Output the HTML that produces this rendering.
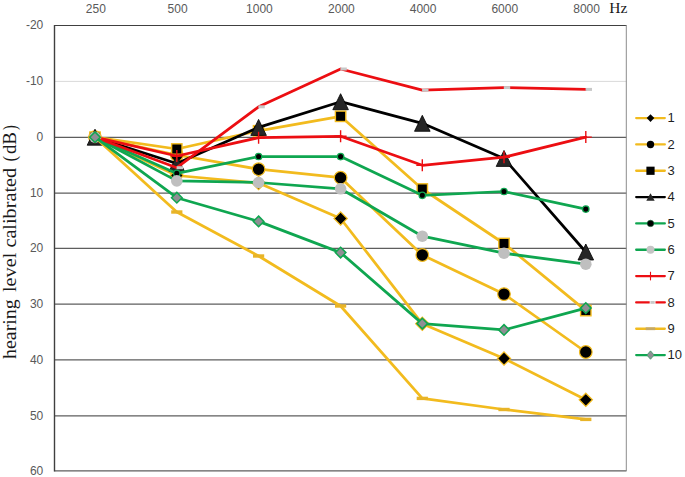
<!DOCTYPE html>
<html><head><meta charset="utf-8"><style>
html,body{margin:0;padding:0;background:#fff;}
body{width:685px;height:477px;overflow:hidden;}
svg{display:block;}
.ax{font-family:"Liberation Sans",sans-serif;font-size:12px;fill:#595959;}
.lg{font-family:"Liberation Sans",sans-serif;font-size:13px;fill:#1f1f1f;}
.hz{font-family:"Liberation Serif",serif;font-size:15.5px;fill:#1a1a1a;}
.yt{font-family:"Liberation Serif",serif;font-size:18.5px;fill:#1a1a1a;}
</style></head><body>
<svg width="685" height="477" viewBox="0 0 685 477">
<rect width="685" height="477" fill="#fff"/>
<line x1="54.5" y1="25.50" x2="626.5" y2="25.50" stroke="#404040" stroke-width="1.2"/>
<line x1="54.5" y1="81.40" x2="626.5" y2="81.40" stroke="#D9D9D9" stroke-width="1"/>
<line x1="54.5" y1="137.40" x2="626.5" y2="137.40" stroke="#5E5E5E" stroke-width="1.3"/>
<line x1="54.5" y1="193.10" x2="626.5" y2="193.10" stroke="#5E5E5E" stroke-width="1.3"/>
<line x1="54.5" y1="248.40" x2="626.5" y2="248.40" stroke="#5E5E5E" stroke-width="1.3"/>
<line x1="54.5" y1="304.20" x2="626.5" y2="304.20" stroke="#5E5E5E" stroke-width="1.3"/>
<line x1="54.5" y1="359.90" x2="626.5" y2="359.90" stroke="#5E5E5E" stroke-width="1.3"/>
<line x1="54.5" y1="415.80" x2="626.5" y2="415.80" stroke="#5E5E5E" stroke-width="1.3"/>
<line x1="54.5" y1="470.90" x2="626.5" y2="470.90" stroke="#5E5E5E" stroke-width="1.3"/>
<line x1="626.3" y1="25" x2="626.3" y2="471" stroke="#8C8C8C" stroke-width="1"/>
<line x1="54.5" y1="25" x2="54.5" y2="471.5" stroke="#404040" stroke-width="1.4"/>
<text x="43.3" y="29.40" text-anchor="end" class="ax">-20</text>
<text x="43.3" y="85.30" text-anchor="end" class="ax">-10</text>
<text x="43.3" y="141.30" text-anchor="end" class="ax">0</text>
<text x="43.3" y="197.00" text-anchor="end" class="ax">10</text>
<text x="43.3" y="252.30" text-anchor="end" class="ax">20</text>
<text x="43.3" y="308.10" text-anchor="end" class="ax">30</text>
<text x="43.3" y="363.80" text-anchor="end" class="ax">40</text>
<text x="43.3" y="419.70" text-anchor="end" class="ax">50</text>
<text x="43.3" y="474.80" text-anchor="end" class="ax">60</text>
<text x="95.80" y="12.8" text-anchor="middle" class="ax">250</text>
<text x="177.60" y="12.8" text-anchor="middle" class="ax">500</text>
<text x="259.40" y="12.8" text-anchor="middle" class="ax">1000</text>
<text x="341.40" y="12.8" text-anchor="middle" class="ax">2000</text>
<text x="423.10" y="12.8" text-anchor="middle" class="ax">4000</text>
<text x="504.80" y="12.8" text-anchor="middle" class="ax">6000</text>
<text x="586.60" y="12.8" text-anchor="middle" class="ax">8000</text>
<text x="609.2" y="12.6" class="hz">Hz</text>
<g transform="translate(15.8 0) rotate(-90)"><text x="-359.08" y="0" textLength="59.90" lengthAdjust="spacingAndGlyphs" class="yt">hearing</text><text x="-291.99" y="0" textLength="39.23" lengthAdjust="spacingAndGlyphs" class="yt">level</text><text x="-247.59" y="0" textLength="79.73" lengthAdjust="spacingAndGlyphs" class="yt">calibrated</text><text x="-161.42" y="0" textLength="5.68" lengthAdjust="spacingAndGlyphs" class="yt">(</text><text x="-154.12" y="0" textLength="22.02" lengthAdjust="spacingAndGlyphs" class="yt">dB</text><text x="-130.08" y="0" textLength="4.81" lengthAdjust="spacingAndGlyphs" class="yt">)</text></g>
<polyline points="95.00,137.20 176.80,175.50 258.60,183.00 340.60,218.50 422.30,323.80 504.00,358.50 585.80,399.80" fill="none" stroke="#F2BB1E" stroke-width="2.75" stroke-linejoin="round" stroke-linecap="round"/>
<path d="M95.00 130.60L101.60 137.20L95.00 143.80L88.40 137.20Z" fill="#000" stroke="#F2BB1E" stroke-width="1.25"/>
<path d="M176.80 168.90L183.40 175.50L176.80 182.10L170.20 175.50Z" fill="#000" stroke="#F2BB1E" stroke-width="1.25"/>
<path d="M258.60 176.40L265.20 183.00L258.60 189.60L252.00 183.00Z" fill="#000" stroke="#F2BB1E" stroke-width="1.25"/>
<path d="M340.60 211.90L347.20 218.50L340.60 225.10L334.00 218.50Z" fill="#000" stroke="#F2BB1E" stroke-width="1.25"/>
<path d="M422.30 317.20L428.90 323.80L422.30 330.40L415.70 323.80Z" fill="#000" stroke="#F2BB1E" stroke-width="1.25"/>
<path d="M504.00 351.90L510.60 358.50L504.00 365.10L497.40 358.50Z" fill="#000" stroke="#F2BB1E" stroke-width="1.25"/>
<path d="M585.80 393.20L592.40 399.80L585.80 406.40L579.20 399.80Z" fill="#000" stroke="#F2BB1E" stroke-width="1.25"/>
<polyline points="95.00,137.20 176.80,155.00 258.60,169.20 340.60,177.70 422.30,255.00 504.00,294.10 585.80,352.00" fill="none" stroke="#F2BB1E" stroke-width="2.75" stroke-linejoin="round" stroke-linecap="round"/>
<circle cx="95.00" cy="137.20" r="6.3" fill="#000" stroke="#F2BB1E" stroke-width="1.2"/>
<circle cx="176.80" cy="155.00" r="6.3" fill="#000" stroke="#F2BB1E" stroke-width="1.2"/>
<circle cx="258.60" cy="169.20" r="6.3" fill="#000" stroke="#F2BB1E" stroke-width="1.2"/>
<circle cx="340.60" cy="177.70" r="6.3" fill="#000" stroke="#F2BB1E" stroke-width="1.2"/>
<circle cx="422.30" cy="255.00" r="6.3" fill="#000" stroke="#F2BB1E" stroke-width="1.2"/>
<circle cx="504.00" cy="294.10" r="6.3" fill="#000" stroke="#F2BB1E" stroke-width="1.2"/>
<circle cx="585.80" cy="352.00" r="6.3" fill="#000" stroke="#F2BB1E" stroke-width="1.2"/>
<polyline points="95.00,137.20 176.80,149.00 258.60,130.80 340.60,116.30 422.30,189.00 504.00,243.50 585.80,310.60" fill="none" stroke="#F2BB1E" stroke-width="2.75" stroke-linejoin="round" stroke-linecap="round"/>
<rect x="89.80" y="132.00" width="10.40" height="10.40" fill="#000" stroke="#F2BB1E" stroke-width="1.4"/>
<rect x="171.60" y="143.80" width="10.40" height="10.40" fill="#000" stroke="#F2BB1E" stroke-width="1.4"/>
<rect x="253.40" y="125.60" width="10.40" height="10.40" fill="#000" stroke="#F2BB1E" stroke-width="1.4"/>
<rect x="335.40" y="111.10" width="10.40" height="10.40" fill="#000" stroke="#F2BB1E" stroke-width="1.4"/>
<rect x="417.10" y="183.80" width="10.40" height="10.40" fill="#000" stroke="#F2BB1E" stroke-width="1.4"/>
<rect x="498.80" y="238.30" width="10.40" height="10.40" fill="#000" stroke="#F2BB1E" stroke-width="1.4"/>
<rect x="580.60" y="305.40" width="10.40" height="10.40" fill="#000" stroke="#F2BB1E" stroke-width="1.4"/>
<polyline points="95.00,137.20 176.80,163.50 258.60,127.40 340.60,101.70 422.30,123.30 504.00,158.40 585.80,252.00" fill="none" stroke="#000000" stroke-width="2.75" stroke-linejoin="round" stroke-linecap="round"/>
<path d="M95.00 129.20L102.80 145.20L87.20 145.20Z" fill="#262626" stroke="#000" stroke-width="0.8"/>
<path d="M176.80 155.50L184.60 171.50L169.00 171.50Z" fill="#262626" stroke="#000" stroke-width="0.8"/>
<path d="M258.60 119.40L266.40 135.40L250.80 135.40Z" fill="#262626" stroke="#000" stroke-width="0.8"/>
<path d="M340.60 93.70L348.40 109.70L332.80 109.70Z" fill="#262626" stroke="#000" stroke-width="0.8"/>
<path d="M422.30 115.30L430.10 131.30L414.50 131.30Z" fill="#262626" stroke="#000" stroke-width="0.8"/>
<path d="M504.00 150.40L511.80 166.40L496.20 166.40Z" fill="#262626" stroke="#000" stroke-width="0.8"/>
<path d="M585.80 244.00L593.60 260.00L578.00 260.00Z" fill="#262626" stroke="#000" stroke-width="0.8"/>
<polyline points="95.00,137.20 176.80,173.40 258.60,156.50 340.60,156.60 422.30,195.30 504.00,191.50 585.80,209.10" fill="none" stroke="#0FA650" stroke-width="2.75" stroke-linejoin="round" stroke-linecap="round"/>
<circle cx="95.00" cy="137.20" r="3.2" fill="#000" stroke="#0FA650" stroke-width="1.3"/>
<circle cx="176.80" cy="173.40" r="3.2" fill="#000" stroke="#0FA650" stroke-width="1.3"/>
<circle cx="258.60" cy="156.50" r="3.2" fill="#000" stroke="#0FA650" stroke-width="1.3"/>
<circle cx="340.60" cy="156.60" r="3.2" fill="#000" stroke="#0FA650" stroke-width="1.3"/>
<circle cx="422.30" cy="195.30" r="3.2" fill="#000" stroke="#0FA650" stroke-width="1.3"/>
<circle cx="504.00" cy="191.50" r="3.2" fill="#000" stroke="#0FA650" stroke-width="1.3"/>
<circle cx="585.80" cy="209.10" r="3.2" fill="#000" stroke="#0FA650" stroke-width="1.3"/>
<polyline points="95.00,137.20 176.80,180.90 258.60,182.50 340.60,188.80 422.30,236.20 504.00,253.20 585.80,264.20" fill="none" stroke="#0FA650" stroke-width="2.75" stroke-linejoin="round" stroke-linecap="round"/>
<circle cx="95.00" cy="137.20" r="5.8" fill="#BFBFBF"/>
<circle cx="176.80" cy="180.90" r="5.8" fill="#BFBFBF"/>
<circle cx="258.60" cy="182.50" r="5.8" fill="#BFBFBF"/>
<circle cx="340.60" cy="188.80" r="5.8" fill="#BFBFBF"/>
<circle cx="422.30" cy="236.20" r="5.8" fill="#BFBFBF"/>
<circle cx="504.00" cy="253.20" r="5.8" fill="#BFBFBF"/>
<circle cx="585.80" cy="264.20" r="5.8" fill="#BFBFBF"/>
<polyline points="95.00,137.20 176.80,156.00 258.60,137.70 340.60,136.30 422.30,165.30 504.00,157.20 585.80,137.10" fill="none" stroke="#EC0E12" stroke-width="2.75" stroke-linejoin="round" stroke-linecap="round"/>
<path d="M89.00 137.20H101.00M95.00 131.20V143.20" stroke="#EC0E12" stroke-width="1.4" fill="none"/>
<path d="M170.80 156.00H182.80M176.80 150.00V162.00" stroke="#EC0E12" stroke-width="1.4" fill="none"/>
<path d="M252.60 137.70H264.60M258.60 131.70V143.70" stroke="#EC0E12" stroke-width="1.4" fill="none"/>
<path d="M334.60 136.30H346.60M340.60 130.30V142.30" stroke="#EC0E12" stroke-width="1.4" fill="none"/>
<path d="M416.30 165.30H428.30M422.30 159.30V171.30" stroke="#EC0E12" stroke-width="1.4" fill="none"/>
<path d="M498.00 157.20H510.00M504.00 151.20V163.20" stroke="#EC0E12" stroke-width="1.4" fill="none"/>
<path d="M579.80 137.10H591.80M585.80 131.10V143.10" stroke="#EC0E12" stroke-width="1.4" fill="none"/>
<polyline points="95.00,137.20 176.80,167.70 258.60,106.80 340.60,69.00 422.30,90.20 504.00,87.60 585.80,89.40" fill="none" stroke="#EC0E12" stroke-width="2.75" stroke-linejoin="round" stroke-linecap="round"/>
<rect x="94.80" y="135.70" width="6.4" height="3.0" fill="#C8C8C8"/>
<rect x="176.60" y="166.20" width="6.4" height="3.0" fill="#C8C8C8"/>
<rect x="258.40" y="105.30" width="6.4" height="3.0" fill="#C8C8C8"/>
<rect x="340.40" y="67.50" width="6.4" height="3.0" fill="#C8C8C8"/>
<rect x="422.10" y="88.70" width="6.4" height="3.0" fill="#C8C8C8"/>
<rect x="503.80" y="86.10" width="6.4" height="3.0" fill="#C8C8C8"/>
<rect x="585.60" y="87.90" width="6.4" height="3.0" fill="#C8C8C8"/>
<polyline points="95.00,137.20 176.80,212.00 258.60,256.00 340.60,306.00 422.30,398.40 504.00,409.50 585.80,419.40" fill="none" stroke="#F2BB1E" stroke-width="2.75" stroke-linejoin="round" stroke-linecap="round"/>
<rect x="89.40" y="135.50" width="11.20" height="3.4" fill="#E8B428"/>
<rect x="171.20" y="210.30" width="11.20" height="3.4" fill="#E8B428"/>
<rect x="253.00" y="254.30" width="11.20" height="3.4" fill="#E8B428"/>
<rect x="335.00" y="304.30" width="11.20" height="3.4" fill="#E8B428"/>
<rect x="416.70" y="396.70" width="11.20" height="3.4" fill="#E8B428"/>
<rect x="498.40" y="407.80" width="11.20" height="3.4" fill="#E8B428"/>
<rect x="580.20" y="417.70" width="11.20" height="3.4" fill="#E8B428"/>
<polyline points="95.00,137.20 176.80,197.70 258.60,221.40 340.60,252.60 422.30,323.60 504.00,329.90 585.80,308.10" fill="none" stroke="#0FA650" stroke-width="2.75" stroke-linejoin="round" stroke-linecap="round"/>
<path d="M95.00 131.90L100.30 137.20L95.00 142.50L89.70 137.20Z" fill="#8F8F94" stroke="#0FA650" stroke-width="1.5"/>
<path d="M176.80 192.40L182.10 197.70L176.80 203.00L171.50 197.70Z" fill="#8F8F94" stroke="#0FA650" stroke-width="1.5"/>
<path d="M258.60 216.10L263.90 221.40L258.60 226.70L253.30 221.40Z" fill="#8F8F94" stroke="#0FA650" stroke-width="1.5"/>
<path d="M340.60 247.30L345.90 252.60L340.60 257.90L335.30 252.60Z" fill="#8F8F94" stroke="#0FA650" stroke-width="1.5"/>
<path d="M422.30 318.30L427.60 323.60L422.30 328.90L417.00 323.60Z" fill="#8F8F94" stroke="#0FA650" stroke-width="1.5"/>
<path d="M504.00 324.60L509.30 329.90L504.00 335.20L498.70 329.90Z" fill="#8F8F94" stroke="#0FA650" stroke-width="1.5"/>
<path d="M585.80 302.80L591.10 308.10L585.80 313.40L580.50 308.10Z" fill="#8F8F94" stroke="#0FA650" stroke-width="1.5"/>
<line x1="636.2" y1="118.10" x2="664.8" y2="118.10" stroke="#F2BB1E" stroke-width="2.3" stroke-linecap="round"/>
<path d="M650.50 114.30L654.30 118.10L650.50 121.90L646.70 118.10Z" fill="#000"/>
<text x="667.6" y="122.40" class="lg">1</text>
<line x1="636.2" y1="144.43" x2="664.8" y2="144.43" stroke="#F2BB1E" stroke-width="2.3" stroke-linecap="round"/>
<circle cx="650.50" cy="144.43" r="3.7" fill="#000"/>
<text x="667.6" y="148.73" class="lg">2</text>
<line x1="636.2" y1="170.76" x2="664.8" y2="170.76" stroke="#F2BB1E" stroke-width="2.3" stroke-linecap="round"/>
<rect x="646.40" y="166.66" width="8.20" height="8.20" fill="#000"/>
<text x="667.6" y="175.06" class="lg">3</text>
<line x1="636.2" y1="197.09" x2="664.8" y2="197.09" stroke="#000000" stroke-width="2.3" stroke-linecap="round"/>
<path d="M650.50 193.29L654.70 200.69L646.30 200.69Z" fill="#262626"/>
<text x="667.6" y="201.39" class="lg">4</text>
<line x1="636.2" y1="223.42" x2="664.8" y2="223.42" stroke="#0FA650" stroke-width="2.3" stroke-linecap="round"/>
<circle cx="650.50" cy="223.42" r="3.2" fill="#000" stroke="#0a5a2a" stroke-width="0.6"/>
<text x="667.6" y="227.72" class="lg">5</text>
<line x1="636.2" y1="249.75" x2="664.8" y2="249.75" stroke="#0FA650" stroke-width="2.3" stroke-linecap="round"/>
<circle cx="650.50" cy="249.75" r="4.0" fill="#C4C4C4"/>
<text x="667.6" y="254.05" class="lg">6</text>
<line x1="636.2" y1="276.08" x2="664.8" y2="276.08" stroke="#EC0E12" stroke-width="2.3" stroke-linecap="round"/>
<path d="M650.50 271.78V280.38" stroke="#EC0E12" stroke-width="1.1" fill="none"/>
<text x="667.6" y="280.38" class="lg">7</text>
<line x1="636.2" y1="302.41" x2="664.8" y2="302.41" stroke="#EC0E12" stroke-width="2.3" stroke-linecap="round"/>
<rect x="649.70" y="300.81" width="5.8" height="3.2" fill="#fff"/><rect x="650.40" y="301.01" width="4.3" height="2.8" fill="#C8C8C8"/>
<text x="667.6" y="306.71" class="lg">8</text>
<line x1="636.2" y1="328.74" x2="664.8" y2="328.74" stroke="#F2BB1E" stroke-width="2.3" stroke-linecap="round"/>
<rect x="645.70" y="327.34" width="9.5" height="2.8" fill="#C4A868"/>
<text x="667.6" y="333.04" class="lg">9</text>
<line x1="636.2" y1="355.07" x2="664.8" y2="355.07" stroke="#0FA650" stroke-width="2.3" stroke-linecap="round"/>
<path d="M650.50 350.87L654.10 355.07L650.50 359.27L646.90 355.07Z" fill="#8F8F94" stroke="#3c9a66" stroke-width="0.8"/>
<text x="667.6" y="359.37" class="lg">10</text>
</svg>
</body></html>
